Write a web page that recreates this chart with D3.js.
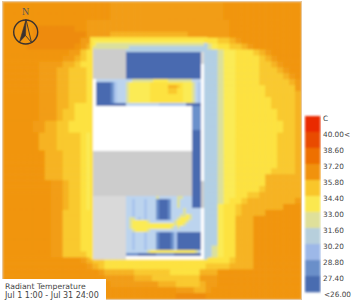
<!DOCTYPE html>
<html><head><meta charset="utf-8">
<script src="https://cdn.jsdelivr.net/npm/d3@7/dist/d3.min.js"></script>
<style>html,body{margin:0;padding:0;background:#fff}svg{display:block}</style>
</head><body><svg id="c" width="364" height="302"></svg>
<script>
// Temperature classes (one character per grid cell)
const classCodes  = ["0","1","2","3","4","5","6","7","8","9","a","b","W","G","L","c"];
const classColors = ["#4a6bb0","#6b90cb","#a9c5ec","#b2cfe4","#dbe09c","#fbeb55","#fde240","#f9c92e","#f6b322","#f29d12","#f1950e","#ee8b09","#ffffff","#cccccc","#d9d9d9","#bcd4ee"];
const legendColors = ["#ea2c00","#e94b00","#ee6f00","#f1920c","#f9c62b","#fbe84f","#dfe09a","#b7cfdc","#9db8e8","#6b8fc9","#4a6cb0"];
const legendLabels = ["C","40.00<","38.60","37.20","35.80","34.40","33.00","31.60","30.20","28.80","27.40","<26.00"];
const titleLines = ["Radiant Temperature","Jul 1 1:00 - Jul 31 24:00"];
const titleSizes = [7.7, 8.0];

// Outdoor grid: [row, repeat]
const M = "3333333333333333333";
const siteRuns = [
["aaaaaaaaaaaaaaaaaa9999999999999999999aaaaaaaaaaaaa",3],
["aaaaaaaaaaaaaa999999999999999999999999aaaaaaaaaaaa",1],
["aaaaabbbbbbbaa999999999999999999999999aaaaaaaaaaaa",1],
["aaaaabbbbbbbbb99998888888888888"+"9999999aaaaaaaaaaaa",1],
["aaaaabbbbbbbb99"+"6666666666666666666"+"6677"+"89aaaaaaaaaa",1],
["aaaabbbbbbbba98"+M+"4566"+"7789aaaaaaaa",1],
["aaaaaaaaaaa9976"+M+"33455666789aaaaa",1],
["aaaaaaaaaa99876"+M+"334556666789aaaa",1],
["aaaaaa999988766"+M+"3345566667789aaa",1],
["aaaaaa999887776"+M+"33455666677789aa",1],
["aaaaaa999887776"+M+"334556666777789a",1],
["aaaaaa999887776"+M+"3345566667777789",1],
["aaaaaa999887776"+M+"3345566666777779",1],
["aaaaaa999887776"+M+"3345566666777778",1],
["aaaaaa999887776"+M+"3345566666677778",1],
["aaaaaa999887666"+M+"3345566666677778",1],
["aaaaaa999877666"+M+"3345566666667778",2],
["aaaaa9988776666"+M+"3345566666666778",2],
["aaaaaa888777765"+M+"3345566666667778",3],
["aaaaaaa88877765"+M+"3345566666667778",3],
["aaaaaaa88877765"+M+"3345566666677778",1],
["aaaaaaa88877765"+M+"3345566666888888",1],
["aaaaaaaa9987765"+M+"3345566666888888",1],
["aaaaaaaa9987765"+M+"3345566667888888",1],
["aaaaaaaa9987765"+M+"3345566778888888",1],
["aaaaaaaa9987765"+M+"3345667888888889",1],
["aaaaaaaa9987765"+M+"3356678888888aaa",1],
["aaaaaaaa9977766"+M+"3356678888aaaaaa",1],
["aaaaaaaa9977766"+M+"33566888aaaaaaaa",5],
["aaaaaaaa9977766"+M+"34566888aaaaaaaa",1],
["aaaaaaaa9977776"+M+"34566888aaaaaaaa",1],
["aaaaaaaaaaaaa98"+"7766666666666666666"+"66667888aaaaaaaa",1],
["aaaaaaaaaaaaaa987"+"66666666666666666"+"77778888aaaaaaaa",1],
["aaaaaaaaaaaaaaaa988888"+"777777"+"66666"+"888aaaaaaaaaaaaaa",1],
["aaaaaaaaaaaaaaaaa99999"+"888"+"77777777"+"999aaaaaaaaaaaaaa",1],
["aaaaaaaaaaaaaaaaaa99999999"+"888"+"7777"+"899aaaaaaaaaaaaaa",1],
["aaaaaaaaaaaaaaaaaaaaaaaaaaaaa"+"999"+"88"+"9aaaaaaaaaaaaaaa",1],
["aaaaaaaaaaaaaaaaaaaaaaaaaaaaa"+"bbbbb"+"aaaaaaaaaaaaaaaa",1]
];

// Building grid: [row, repeat]
const Y33 = "WWWWWWWWWWWWWWWWWWWWWWWWWWWWWWWWW", G33 = "GGGGGGGGGGGGGGGGGGGGGGGGGGGGGGGGG";
const G11 = "GGGGGGGGGGG", L11 = "LLLLLLLLLLL", B25 = "0000000000000000000000000";
const buildingRuns = [
["666666666666666666666666666666666666666",1],
["655555555555555555555555555555555555556",1],
["6"+"5444444444444444444444444444444444444"+"3",1],
["6"+"444444444444"+"33333333333333333333333333",1],
["6"+G11+"333333333333333333333333333",1],
["6"+G11+B25+"L3",4],
["6"+G11+B25+"W3",5],
["6W"+"cccccccccc"+"cc4444444"+"5555544444444"+"ccc"+"W3",1],
["6W"+"00000"+"1"+"2"+"ccc"+"4"+"5555555"+"666666"+"6666"+"6"+"555"+"4"+"c"+"2"+"W3",1],
["6W"+"00000"+"1"+"2"+"ccc"+"4"+"5555555"+"666666"+"8887"+"6"+"555"+"4"+"c"+"2"+"W3",1],
["6W"+"00000"+"1"+"2"+"ccc"+"4"+"5555555"+"666666"+"7776"+"6"+"555"+"4"+"c"+"2"+"W3",2],
["6W"+"00000"+"1"+"2"+"ccc"+"4"+"5555555"+"666666"+"6666"+"6"+"555"+"4"+"c"+"2"+"W3",3],
["6W"+"0000000000"+"ccccccccccc"+"222222222"+"00000"+"W3",1],
["6"+Y33+"111"+"W3",8],
["6"+Y33+"000"+"W3",7],
["6"+G33+"000"+"W3",10],
["6"+G33+"000"+"G3",5],
["6"+L11+"ccccccccc"+"c4cccccc44"+"ccc"+"000G3",1],
["6"+L11+"cc2ccc2ccc"+"10001"+"cc4cccc"+"000G3",3],
["6"+L11+"cc2ccc2ccc"+"10001"+"cccc4cc"+"ccc"+"W3",2],
["6"+L11+"cc2ccc2ccc"+"10001"+"cc"+"c4454"+"ccc"+"W3",1],
["6"+L11+"c44c2c2ccc"+"10001"+"cc"+"45554"+"ccc"+"W3",1],
["6"+L11+"c4555554c"+"c"+"ccccc"+"c4"+"5554c"+"ccc"+"W3",1],
["6"+L11+"c45555555"+"5"+"55555"+"5"+"4"+"554cc"+"ccc"+"W3",1],
["6"+L11+"c45555555"+"5"+"55555"+"4c"+"4cccc"+"ccc"+"W3",1],
["6"+L11+"cc455554c"+"c"+"ccccc"+"cc"+"ccccc"+"ccc"+"W3",1],
["6"+L11+"cc2ccc2ccc"+"100001"+"2"+"00000"+"000W3",6],
["6"+L11+"ccccccc"+"455555555555555"+"54c"+"W3",1],
["6"+L11+"1111000000111111000000"+"000W3",1],
["6"+L11+"WWWWWWWWWWWWWWWWWWWWWWWWWW"+"3",1]
];

const expand = runs => d3.merge(runs.map(([r,n]) => d3.range(n).map(() => r)));
const siteRows = expand(siteRuns), buildingRows = expand(buildingRuns);
const color = d3.scaleOrdinal(classCodes, classColors);
const svg = d3.select("#c");

const defs = svg.append("defs");
defs.append("filter").attr("id","soft").attr("x","-2%").attr("y","-2%").attr("width","104%").attr("height","104%")
  .append("feGaussianBlur").attr("stdDeviation",0.85);
defs.append("clipPath").attr("id","frame").append("rect")
  .attr("x",3).attr("y",2).attr("width",298).attr("height",297);

function drawGrid(g, rows, x0, x1, y0, y1){
  const nc = d3.max(rows, r => r.length);
  const x = d3.scaleBand(d3.range(nc), [x0,x1]);
  const y = d3.scaleBand(d3.range(rows.length), [y0,y1]);
  const cells = rows.flatMap((r,i) => Array.from(r, (v,j) => ({i,j,v})));
  g.selectAll(null).data(cells).join("rect")
    .attr("x",d=>x(d.j)).attr("y",d=>y(d.i))
    .attr("width",x.bandwidth()+0.5).attr("height",y.bandwidth()+0.5)
    .attr("fill",d=>color(d.v));
}

svg.append("rect").attr("x",2).attr("y",1).attr("width",300).attr("height",299).attr("fill","#e8c79a");
const map = svg.append("g").attr("clip-path","url(#frame)").append("g").attr("filter","url(#soft)");
drawGrid(map, siteRows, 3, 301, 2, 299);
drawGrid(map, buildingRows, 90, 207, 37, 259);

// North arrow
const na = svg.append("g").attr("fill","none").attr("stroke","#3a3230");
na.append("circle").attr("cx",25.7).attr("cy",32).attr("r",12).attr("stroke-width",1.4);
na.append("path").attr("d","M26 19.5L19.5 42L25.5 35.5Z").attr("fill","#3a3230").attr("stroke-width",0.6);
na.append("path").attr("d","M26 19.5L31.5 42.5L25.5 35.5").attr("stroke-width",0.9);
svg.append("text").attr("x",25.7).attr("y",15).attr("text-anchor","middle")
  .attr("font-family","'Liberation Serif',serif").attr("font-size",10).attr("fill","#555").text("N");

// Legend
const ly = d3.scaleBand(d3.range(legendColors.length), [116,292]);
svg.append("g").attr("filter","url(#soft)").selectAll("rect").data(legendColors).join("rect")
  .attr("x",305).attr("y",(d,i)=>ly(i)).attr("width",15.5).attr("height",ly.bandwidth()+0.3).attr("fill",d=>d);
const lt = d3.scalePoint(legendLabels, [118.5,294.5]);
svg.append("g").selectAll("text").data(legendLabels).join("text")
  .attr("x",(d,i)=>i===11?324:323).attr("y",d=>lt(d)).attr("dy","0.35em")
  .attr("font-family","'DejaVu Sans',sans-serif").attr("font-size",7.3).attr("fill","#444").text(d=>d);

// Title box
svg.append("rect").attr("x",0).attr("y",279).attr("width",106).attr("height",23).attr("fill","#fff");
svg.append("g").selectAll("text").data(titleLines).join("text")
  .attr("x",5).attr("y",(d,i)=>288.5+i*9)
  .attr("font-family","'DejaVu Sans',sans-serif").attr("font-size",(d,i)=>titleSizes[i]).attr("fill","#444").text(d=>d);
</script></body></html>
